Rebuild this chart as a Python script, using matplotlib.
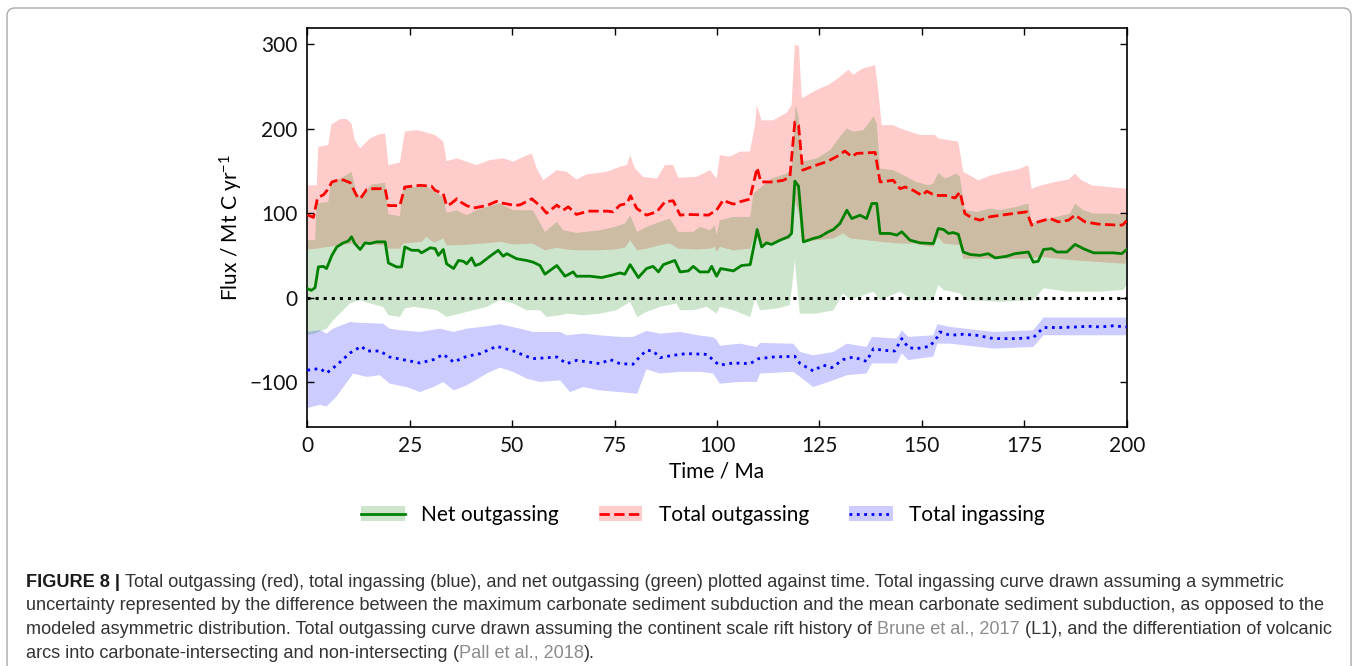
import numpy as np
import matplotlib
matplotlib.use("Agg")
import matplotlib.pyplot as plt
from matplotlib.patches import Patch, FancyBboxPatch
from matplotlib.lines import Line2D
from matplotlib.transforms import IdentityTransform

# ---------------- data ----------------
# Net outgassing (green)
net_t = [0, 1, 1.9, 2.7, 3.9, 4.7, 6, 7.2, 8.8, 10, 10.8, 11.6, 12.9, 14.1, 15.3, 16.9, 19, 19.8, 21.8, 23,
         23.8, 25.5, 27.1, 27.9, 30, 31.2, 32, 33.2, 34, 35.7, 36.9, 38.1, 38.9, 40.1, 41, 42.2, 44.6, 46.6,
         47.8, 48.7, 51.1, 53.5, 55.1, 56.8, 58, 60.9, 62.9, 64.9, 65.7, 69, 71.8, 74.3, 76.3, 77.5, 78.8,
         80.8, 82.8, 84.4, 85.7, 86.9, 89.7, 91, 93, 94.2, 95.8, 97.9, 98.7, 99.9, 100.9, 104, 106, 108.1,
         109.8, 110.9, 112.1, 113.3, 115.4, 117.4, 118.2, 119, 119.9, 121.1, 123.5, 125.1, 127.2, 128.4, 130,
         131.7, 132.9, 134.9, 136.5, 137.8, 139, 139.8, 142.2, 143.9, 145.1, 147.1, 149.6, 152.8, 154, 155.3,
         156.5, 157.7, 158.9, 160.1, 161.8, 164.2, 166.2, 167.9, 170.7, 172.7, 176, 177.2, 178.4, 179.7,
         181.7, 182.9, 185.4, 187.4, 189.4, 191.9, 196.7, 198.8, 200]
net_v = [10.6, 8.6, 11.8, 36.3, 37, 34.4, 50, 60, 64.8, 67, 72, 64, 57, 64.8, 64, 66, 66, 41, 36.3, 36.3,
         60, 56, 56, 53, 59, 58, 50, 57, 40, 34.4, 44, 43, 40, 47, 38, 40, 49, 56,
         49, 52, 46, 44, 42, 38, 27.7, 38, 25.3, 30.4, 25.3, 25.3, 23.7, 26.5, 29.2, 27.7, 39,
         23.7, 34.4, 37, 30.4, 39, 44, 30.4, 31.6, 37, 30.4, 30.4, 37, 25.3, 34.4, 31.6, 38, 39,
         80.6, 60, 64.8, 63, 68, 72, 76, 138, 132, 66, 70, 72, 78, 80.6, 87.7,
         103.5, 93.6, 97.6, 93.6, 111.5, 111.5, 76, 76, 74, 78, 68, 64.8, 64, 81.8, 80.6,
         76, 77, 75, 54, 51, 50, 52, 47, 48.9, 52, 54, 42, 43, 57,
         58, 54, 54, 63, 58, 53, 53, 52, 57]
net_hi_t = [0, 1.9, 2.3, 5.1, 5.7, 8.8, 10.8, 12, 12.9, 15.7, 19, 19.8, 22.6, 23.4, 25.9, 28.8, 31.2, 33.2,
            34, 36.5, 38.9, 41.3, 43.8, 47, 50.3, 55.1, 58, 60.9, 62.5, 65.7, 71.4, 75.1, 77.5, 78.8, 80.5,
            82.8, 86.1, 88.5, 90.5, 94.2, 95.8, 98.3, 99.5, 99.9, 100.7, 104, 108.1, 108.9, 113.3, 117,
            118.2, 119.2, 120, 120.7, 124.3, 127.6, 130, 131.7, 133.3, 135.7, 137.3, 138.2, 139, 139.8,
            143, 145.5, 148.7, 151.6, 152.8, 154, 155.7, 158.5, 159.3, 160.5, 163.4, 166.6, 169.1, 173.1,
            176, 176.8, 179.7, 182.9, 186.2, 187.4, 189.4, 191.9, 195.9, 200]
net_hi_v = [68, 68, 112, 113, 135, 143, 149, 125, 119, 134, 136, 98.8, 96.4, 132, 131, 133, 125, 119,
            100.4, 103.5, 97.6, 103.5, 107.5, 111.5, 103.5, 103.5, 77.8, 89.7, 79.8, 76.6, 79.8, 83.7, 87.7,
            97.6, 77.8, 83.7, 89.7, 93.6, 77.8, 77.8, 83.7, 79.8, 85.7, 73.9, 91.7, 95.6, 95.6, 123.3, 141,
            147, 152.9, 228, 212, 160.9, 164.8, 174.7, 190.5, 200.4, 196.5, 198.4, 208.3, 215, 206, 152.9,
            151, 145, 137, 133, 135, 147.8, 141, 147, 143, 103.5, 101.5, 105.5, 103.5, 107.5,
            111.5, 87.7, 91.7, 95.6, 99.6, 111.5, 103.5, 99.6, 99.6, 97.6]
net_lo_t = [0, 1.5, 4.7, 6.3, 10.4, 12.9, 15.3, 18.5, 19.8, 22.6, 23.8, 25.9, 29, 31.6, 34, 37.3, 40.5,
            43.8, 47, 50.3, 53.5, 56.8, 58.5, 61.7, 63.3, 67.4, 71.4, 75.5, 78.8, 80.5, 82.8, 86.1, 90.1,
            91, 94.2, 97.5, 99.9, 100.7, 104, 108.1, 109.3, 110.5, 114.6, 117.8, 119, 120.2, 124.3, 128.4,
            130.8, 132.5, 138.2, 139.8, 144.7, 147.9, 152.8, 154, 155.3, 159.3, 160.9, 169.1, 177.2, 179.7,
            185.4, 193.5, 199.2, 200]
net_lo_v = [-44, -43, -37, -27, -7, -3, -7, -11, -21, -23, -13, -11, -13, -15, -23, -19, -15,
            -11, -3, -7, -15, -15, -23, -21, -19, -21, -19, -15, -5, -23, -17, -11, -7,
            -15, -15, -11, -19, -11, -15, -23, -1, -15, -13, -9, 44, -19, -19, -15,
            5, -3, 7, -3, 7, -3, -3, 15, 9, 5, -3, -5, -3, 11,
            7, 7, 9, 15]

# Total outgassing (red)
tot_t = [0, 1.5, 2.5, 4, 5, 6, 8, 9, 10.5, 12, 12.9, 14.5, 16, 19, 19.8, 22.6, 23.8, 27.5, 30.3, 31.2, 33.2,
         34, 35, 36.5, 37.5, 38.9, 40.5, 43.8, 46.2, 47.5, 48.7, 50.7, 52, 54.8, 57.2, 58.4, 60.9, 62.5,
         63.7, 65.7, 68.6, 73.1, 74.7, 76.3, 78, 78.9, 80.4, 82.8, 85.3, 87.3, 89.3, 91, 93, 97.9, 99.9,
         101.5, 102.4, 104, 105.6, 108, 109.8, 110.7, 113.7, 116.2, 117.8, 119, 119.9, 120.9, 124.3, 126.8,
         129.2, 131.2, 132.9, 134.1, 138.6, 139.8, 143, 144.7, 145.9, 147.9, 150, 151.2, 153.2, 155.7,
         158.1, 159.3, 160.5, 162.2, 164.2, 166.6, 169.5, 172.3, 175.6, 176.8, 178.4, 181.3, 183.3, 185.8,
         187.4, 189.8, 193.1, 198, 199, 200]
tot_v = [98, 95, 118, 122, 128, 137, 140, 139, 136, 121, 117, 128, 129, 129, 109, 109, 131, 133, 132, 127, 123,
         109, 111, 117, 113, 109, 106, 109, 114, 112, 111, 109, 110, 117, 107, 100, 109.5, 103.6,
         107.5, 98.5, 102.4, 102.4, 101.6, 109.5, 111.5, 120.6, 105.6, 97.7, 101.6, 113.5, 114.7, 97.7, 98.5,
         97.7, 103.6, 115.5, 113.5, 110.7, 113.5, 116.6, 153.8, 137, 137, 139, 143, 208, 204, 151, 157, 161,
         167, 173.6, 167, 170.8, 172, 137, 139, 129, 131, 127, 121, 126, 121, 121,
         118, 125, 99.6, 94.5, 91.7, 95.7, 97.7, 99.6, 101.6, 85.8, 89.7, 93.7, 89.7, 91.7,
         97.7, 89.7, 87, 85.8, 86, 91]
tot_hi_t = [0, 2.3, 2.7, 5.1, 5.9, 8, 9.6, 10.8, 11.6, 12.9, 15.3, 17.7, 19, 19.8, 22.6, 23.8, 26.7, 28.3,
            31.2, 33.2, 34, 36.5, 38.9, 41.3, 44.6, 47.8, 50.3, 51.9, 54.8, 56, 57.6, 60.9, 63.3, 65.7, 68.2,
            73.1, 76.3, 78, 78.8, 80, 82, 85.3, 87.3, 89.3, 90.6, 95, 98.3, 99.9, 100.7, 103.2, 105.6, 108,
            109.3, 109.7, 110.9, 113.7, 117, 118.2, 119, 120, 120.7, 124.3, 127.2, 129.6, 132.1, 133.3, 135.3,
            138.6, 139.4, 140.2, 143, 144.7, 147.1, 149.6, 153.2, 154, 156.5, 158.9, 160.1, 163.8, 167,
            170.3, 173.6, 176, 176.8, 179.2, 182.5, 185.8, 187.4, 189, 191.5, 195.5, 200]
tot_hi_v = [133, 133, 178.7, 180.7, 205, 211.5, 211.5, 206, 186.6, 176.7, 188.6, 193.7, 194.5, 157, 160, 196.5,
            198.5, 196.5, 192.6, 184.7, 161.7, 165, 161, 157, 163, 165, 161, 165, 170.8, 153, 139, 151, 149,
            140, 146, 149, 155, 157, 168.8, 153, 143, 141, 157, 157, 142, 143, 151, 141, 168.8, 167, 173, 173,
            204.5, 228, 210, 210, 219, 228, 299, 298.5, 236, 246, 252, 260, 270, 264, 271,
            275.5, 244, 204.4, 204.4, 200.5, 196.5, 192.6, 192.6, 188.6, 186.6, 184.7, 149, 139, 145,
            149, 152, 157, 129, 133, 137, 140, 146.8, 139, 133, 131, 129]
tot_lo_t = [0, 2.3, 5, 8, 10.8, 12, 15, 19, 19.8, 22.6, 23.4, 28, 29, 31, 33.2, 34, 37, 40, 43, 47, 50.3, 55,
            58, 60.9, 63, 66, 71, 75, 77.5, 78.8, 80.5, 83, 86, 88.5, 90.5, 95, 98.3, 99.5, 99.9, 100.7, 104,
            108.1, 109.3, 110.5, 114.6, 117.8, 119, 120, 120.7, 124.3, 128.4, 130.8, 132.5, 136.5, 139.8,
            144.7, 147.9, 152.8, 154, 155.3, 159.3, 160.1, 175.2, 179.2, 187.4, 199.6, 200]
tot_lo_v = [57, 58, 60, 62, 64, 62, 63, 62, 58, 58, 64, 66, 72, 65, 70, 62, 62, 63, 64, 66, 63, 64,
            56, 59, 57, 56, 56, 57, 59, 68, 56, 58, 62, 64, 58, 57, 58, 60, 54, 60, 56,
            58, 76, 64, 66, 70, 115, 100, 66, 68, 70, 76, 70, 68, 66,
            64, 64, 60, 72, 64, 62, 46, 46, 48, 44, 40, 50]

# Total ingassing (blue)
ing_t = [0, 3.1, 4.7, 7.2, 10.4, 13.2, 14.5, 17.7, 20.1, 24.2, 27.5, 30.8, 33.2, 35.7, 38.9, 42.2, 46.2, 50.3,
         53.5, 55.1, 60.9, 63.3, 65.7, 71.4, 73.9, 76.3, 79.5, 81.1, 82.8, 84.4, 86.1, 89.3, 92.5, 97.5,
         99.9, 100.7, 104, 108.1, 110.1, 113.8, 119, 120.3, 123.5, 125.9, 128, 130.8, 133.3, 136.5, 138.2,
         140.6, 143.4, 145.1, 146.7, 148.7, 152, 153.8, 154.4, 156.9, 160.1, 163.4, 167.5, 173.1, 177.2,
         179.7, 183.7, 187.8, 190.6, 193.5, 196.7, 200]
ing_v = [-86, -84, -89.5, -80, -65.7, -57.7, -63.3, -63.3, -70.4, -74.4, -77.5, -73.5, -67.3, -76.4, -69.6,
         -66.4, -57.7, -63.3, -69.6, -72.4, -70.4, -78.3, -74.4, -78.3, -73.5, -78.3, -79, -70.4, -62.5,
         -63.3, -71.2, -68.4, -66.4, -67.3, -77.5, -80, -77.5, -78.3, -72.4, -70.4, -69.6, -78.3, -87, -80,
         -83, -73.5, -70.4, -75.6, -60.5, -62.5, -63.3, -48.6, -59.3, -60.5, -57.7, -46.6, -40.7, -44.7,
         -43.5, -44.7, -48.6, -48.6, -47.4, -35.5, -35.5, -34.8, -34, -34.8, -33.5, -34.8]
ing_hi_t = [0, 3.1, 4.7, 6.3, 10.4, 12.9, 18.5, 20.1, 22.6, 27.5, 32.4, 35.7, 38.9, 43.8, 47, 51.9, 55.1,
            61.7, 63.3, 67.4, 71.4, 76.3, 79.5, 82.8, 86.1, 91, 95.8, 99.1, 99.9, 100.7, 105.6, 109.7, 110.5,
            118.6, 120.3, 123.5, 128.4, 131.7, 136.5, 137.8, 143.9, 145.1, 146.7, 152.8, 153.8, 156.9, 167.5,
            177.2, 179.7, 200]
ing_hi_v = [-40.7, -38.7, -42.7, -36.8, -28.9, -30, -30.9, -36.8, -38.7, -40.7, -36.8, -40.7, -36.8, -34,
            -31.6, -36.8, -40.7, -40.7, -44.7, -42.7, -44.7, -46.6, -46.6, -39.5, -42.7, -40.7, -45, -47,
            -50, -57, -54.6, -58.5, -53.8, -54.6, -64.5, -68.4, -64.5, -54.6, -58.5, -46.6, -48.6, -38.7,
            -46.6, -44.7, -31.6, -34.8, -40.7, -38.7, -23.7, -23.7]
ing_lo_t = [0, 3.1, 4.7, 7.2, 11.2, 14.5, 17.7, 20.1, 24.2, 27.5, 30.8, 33.2, 35.7, 38.9, 43.8, 47, 50.3, 53.5,
            56.8, 61.7, 64.1, 67.4, 71.4, 76.3, 80.5, 82.8, 86.1, 91, 95.8, 99.1, 100.7, 105.6, 109.7, 110.5,
            118.6, 120.3, 123.5, 128.4, 131.7, 136.5, 137.8, 143.9, 145.1, 146.7, 152.8, 153.8, 156.9, 167.5,
            177.2, 179.7, 200]
ing_lo_v = [-131, -127, -129, -117, -90, -94, -92, -102, -106, -112, -106, -100, -110, -104, -90, -83, -88,
            -96, -100, -98, -112, -106, -110, -112, -114, -85, -90, -88, -88, -90, -102, -100, -100, -90,
            -88, -94, -106, -98, -92, -90, -78, -78, -66, -74, -70, -54.6, -54.6, -60.5, -58.5, -44.7, -44.7]

x_ticks = [0, 25, 50, 75, 100, 125, 150, 175, 200]
y_ticks = [-100, 0, 100, 200, 300]
legend_labels = ["Net outgassing", "Total outgassing", "Total ingassing"]

caption_lines = [
    [("FIGURE 8 |", "bold", "#1a1a1a", 0),
     ("Total outgassing (red), total ingassing (blue), and net outgassing (green) plotted against time. "
      "Total ingassing curve drawn assuming a symmetric", "normal", "#333333", 1)],
    [("uncertainty represented by the difference between the maximum carbonate sediment subduction and the "
      "mean carbonate sediment subduction, as opposed to the", "normal", "#333333", 0)],
    [("modeled asymmetric distribution. Total outgassing curve drawn assuming the continent scale rift history of",
      "normal", "#333333", 0),
     ("Brune et al., 2017", "normal", "#8c8c8c", 1),
     ("(L1), and the differentiation of volcanic", "normal", "#333333", 1)],
    [("arcs into carbonate-intersecting and non-intersecting", "normal", "#333333", 0),
     ("(", "normal", "#333333", 1),
     ("Pall et al., 2018", "normal", "#8c8c8c", 0),
     (").", "normal", "#333333", 0)],
]

# ---------------- figure ----------------
W, H = 1358, 666
plt.rcParams["font.family"] = ["Lato", "DejaVu Sans"]
plt.rcParams["mathtext.fontset"] = "custom"
plt.rcParams["mathtext.rm"] = "Lato"
plt.rcParams["mathtext.it"] = "Lato:italic"
plt.rcParams["mathtext.bf"] = "Lato:bold"
plt.rcParams["mathtext.default"] = "rm"
fig = plt.figure(figsize=(W / 100, H / 100), dpi=100)

ax = fig.add_axes([307.3 / W, 1 - 426.7 / H, (1126.7 - 307.3) / W, (426.7 - 27.5) / H])

GREEN, RED, BLUE = "#008000", "#ff0000", "#0000ff"
ALPHA = 0.2


def band(tx_hi, v_hi, tx_lo, v_lo, color, z):
    xs = np.concatenate([np.asarray(tx_hi), np.asarray(tx_lo)[::-1]])
    ys = np.concatenate([np.asarray(v_hi), np.asarray(v_lo)[::-1]])
    ax.fill(xs, ys, color=color, alpha=ALPHA, lw=0, zorder=z)


band(tot_hi_t, tot_hi_v, tot_lo_t, tot_lo_v, RED, 1)
band(net_hi_t, net_hi_v, net_lo_t, net_lo_v, GREEN, 1.1)
band(ing_hi_t, ing_hi_v, ing_lo_t, ing_lo_v, BLUE, 1.2)

ax.plot([0, 200], [0, 0], color="black", ls=":", lw=2.2, zorder=2)
ax.plot(net_t, net_v, color=GREEN, lw=2, zorder=3)
ax.plot(tot_t, tot_v, color=RED, lw=2, ls="--", zorder=3)
ax.plot(ing_t, ing_v, color=BLUE, lw=2, ls=":", zorder=3)

ax.set_xlim(0, 200)
ax.set_ylim(-153, 320)
ax.set_xticks(x_ticks)
ax.set_yticks(y_ticks)
ax.set_yticklabels(["\u2212100" if v < 0 else str(v) for v in y_ticks])
ax.tick_params(direction="in", top=True, right=True, length=5, width=1, labelsize=15, pad=7,
               labelcolor="#111111")
for s in ax.spines.values():
    s.set_linewidth(1.2)
ax.set_xlabel("Time / Ma", fontsize=15, labelpad=4)
ax.set_ylabel("Flux / Mt C yr$^{\u22121}$", fontsize=15, labelpad=3)

handles = [(Patch(facecolor=GREEN, alpha=ALPHA, lw=0), Line2D([], [], color=GREEN, lw=2)),
           (Patch(facecolor=RED, alpha=ALPHA, lw=0), Line2D([], [], color=RED, lw=2, ls="--")),
           (Patch(facecolor=BLUE, alpha=ALPHA, lw=0), Line2D([], [], color=BLUE, lw=2, ls=":"))]
fig.legend(handles, legend_labels, loc="center", bbox_to_anchor=(703 / W, 1 - 515 / H), ncol=3,
           frameon=False, fontsize=15, handlelength=2.1, handleheight=0.75, handletextpad=0.8,
           columnspacing=1.9)

# border around figure panel
fig.add_artist(FancyBboxPatch((7, -30), 1344, H - 8 + 30, boxstyle="round,pad=0,rounding_size=8",
                              transform=IdentityTransform(), fill=False, edgecolor="#a8a8a8", lw=1.0))

# caption
baselines = [587, 610.5, 634, 657.5]
cap_fs = 13.1
cap_texts = []
for line, base in zip(caption_lines, baselines):
    row = []
    for text, weight, color, space in line:
        t = fig.text(26 / W, 1 - base / H, text, fontsize=cap_fs, fontweight=weight, color=color,
                     va="baseline", ha="left", family=["Liberation Sans", "DejaVu Sans"])
        row.append((t, space))
    cap_texts.append((row, base))

fig.canvas.draw()
renderer = fig.canvas.get_renderer()
for row, base in cap_texts:
    x_px = 26
    for j, (t, space) in enumerate(row):
        if j > 0:
            x_px += space * cap_fs * 0.278 * 100 / 72
        t.set_position((x_px / W, 1 - base / H))
        x_px += t.get_window_extent(renderer).width

fig.savefig("out.png", dpi=100)
